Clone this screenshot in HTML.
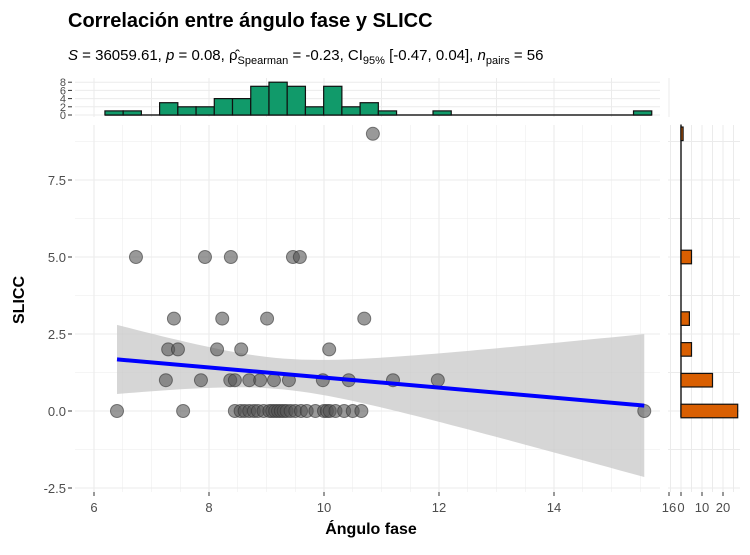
<!DOCTYPE html>
<html><head><meta charset="utf-8">
<style>
body{margin:0;background:#fff;width:750px;height:550px;overflow:hidden;font-family:"Liberation Sans",sans-serif}
</style></head>
<body>
<svg id="chart" width="750" height="550" xmlns="http://www.w3.org/2000/svg" font-family="Liberation Sans, sans-serif">
<text x="68" y="27" font-size="20" font-weight="bold" fill="#000">Correlación entre ángulo fase y SLICC</text>
<text x="68" y="60" font-size="15" fill="#000"><tspan font-style="italic">S</tspan> = 36059.61, <tspan font-style="italic">p</tspan> = 0.08, ρ̂<tspan font-size="11" dy="4">Spearman</tspan><tspan dy="-4"> = -0.23, CI</tspan><tspan font-size="11" dy="4">95%</tspan><tspan dy="-4"> [-0.47, 0.04], </tspan><tspan font-style="italic">n</tspan><tspan font-size="11" dy="4">pairs</tspan><tspan dy="-4"> = 56</tspan></text>
<g id="grid"></g>
<g id="marks"></g>
<text x="371" y="534" font-size="16" font-weight="bold" text-anchor="middle">Ángulo fase</text>
<text transform="translate(24,300) rotate(-90)" font-size="16" font-weight="bold" text-anchor="middle">SLICC</text>
</svg>
<script>
// scatter data
const xValues=[10.85,6.73,7.93,8.38,9.46,9.58,7.39,8.23,9.01,10.70,7.29,7.46,8.14,8.56,10.09,7.25,7.86,8.37,8.45,8.70,8.89,9.13,9.39,9.98,10.43,11.2,11.98,6.40,7.55,15.57,8.45,8.55,8.62,8.7,8.78,8.85,8.95,9.05,9.1,9.15,9.2,9.25,9.3,9.35,9.42,9.5,9.6,9.7,9.85,10.0,10.05,10.1,10.2,10.35,10.5,10.65];
const yValues=[9,5,5,5,5,5,3,3,3,3,2,2,2,2,2,1,1,1,1,1,1,1,1,1,1,1,1,0,0,0,0,0,0,0,0,0,0,0,0,0,0,0,0,0,0,0,0,0,0,0,0,0,0,0,0,0];
// top histogram
const topBinStart=6.19, topBinWidth=0.317;
const topCounts=[1,1,0,3,2,2,4,4,7,8,7,2,7,2,3,1,0,0,1,0,0,0,0,0,0,0,0,0,0,1];
const topTicks=[0,2,4,6,8];
// right histogram
const sideCats=[0,1,2,3,5,9];
const sideCounts=[27,15,5,4,5,1];
const sideTicks=[0,10,20];
const xTicks=[6,8,10,12,14,16];
const yTicks=[-2.5,0,2.5,5,7.5];

const NS="http://www.w3.org/2000/svg";
const grid=document.getElementById('grid'),marks=document.getElementById('marks');
function el(t,a,p){const e=document.createElementNS(NS,t);for(const k in a)e.setAttribute(k,a[k]);(p||marks).appendChild(e);return e;}
const PL=75,PR=660,PT=125,PB=492;
const sx=v=>94+(v-6)*57.5;
const sy=v=>411-v*30.8;
for(let v=5.5;v<=16.5;v+=0.5){if(sx(v)<PL||sx(v)>PR)continue;const g=el('line',{x1:sx(v),x2:sx(v),y1:PT,y2:PB,stroke:'#ebebeb','stroke-width':Number.isInteger(v/2)?1.1:0.5},grid);}
for(let v=-2.5;v<=8.75;v+=1.25){const g=el('line',{x1:PL,x2:PR,y1:sy(v),y2:sy(v),stroke:'#ebebeb','stroke-width':Math.abs(v/2.5-Math.round(v/2.5))<1e-6?1.1:0.5},grid);}
xTicks.forEach(v=>{const t=el('text',{x:sx(v),y:512,'font-size':13,fill:'#4d4d4d','text-anchor':'middle'});t.textContent=v;el('line',{x1:sx(v),x2:sx(v),y1:492,y2:496,stroke:'#333'});});
yTicks.forEach(v=>{const t=el('text',{x:66,y:sy(v)+5,'font-size':13,fill:'#4d4d4d','text-anchor':'end'});t.textContent=v.toFixed(1);el('line',{x1:68,x2:72,y1:sy(v),y2:sy(v),stroke:'#333'});});
const n=xValues.length;let mx=0,my=0;for(let i=0;i<n;i++){mx+=xValues[i];my+=yValues[i];}mx/=n;my/=n;
let sxx=0,sxy=0;for(let i=0;i<n;i++){sxx+=(xValues[i]-mx)**2;sxy+=(xValues[i]-mx)*(yValues[i]-my);}
const b=sxy/sxx,a=my-b*mx;let sse=0;for(let i=0;i<n;i++)sse+=(yValues[i]-a-b*xValues[i])**2;
const s=Math.sqrt(sse/(n-2)),tq=2.005;
const x0=Math.min(...xValues),x1=Math.max(...xValues);
let up=[],lo=[];for(let k=0;k<=60;k++){const x=x0+(x1-x0)*k/60,yh=a+b*x,se=s*Math.sqrt(1/n+(x-mx)**2/sxx);up.push(sx(x)+','+sy(yh+tq*se));lo.unshift(sx(x)+','+sy(yh-tq*se));}
const band=el('polygon',{points:up.concat(lo).join(' '),fill:'#c8c8c8','fill-opacity':0.75});

for(let i=0;i<n;i++){const c=el('circle',{cx:sx(xValues[i]),cy:sy(yValues[i]),r:6.5,fill:'#555','fill-opacity':0.6,stroke:'#333','stroke-opacity':0.6,'stroke-width':1});}
const rl=el('line',{x1:sx(x0),y1:sy(a+b*x0),x2:sx(x1),y2:sy(a+b*x1),stroke:'#0000ff','stroke-width':4});

const tb=115,th=4.1;
topTicks.forEach(v=>{const g=el('line',{x1:PL,x2:PR,y1:tb-v*th,y2:tb-v*th,stroke:'#ebebeb'},grid);
 const t=el('text',{x:66,y:tb-v*th+4,'font-size':11,fill:'#4d4d4d','text-anchor':'end'});t.textContent=v;el('line',{x1:68,x2:72,y1:tb-v*th,y2:tb-v*th,stroke:'#333'});});
for(let v=6;v<=16;v+=1){el('line',{x1:sx(v),x2:sx(v),y1:78,y2:117,stroke:'#ebebeb'},grid);}
el('line',{x1:sx(topBinStart),x2:sx(topBinStart+topCounts.length*topBinWidth),y1:tb,y2:tb,stroke:'#222','stroke-width':1.5});
topCounts.forEach((c,i)=>{if(!c)return;const x=sx(topBinStart+i*topBinWidth),w=sx(topBinStart+(i+1)*topBinWidth)-x;const r=el('rect',{x:x,y:tb-c*th,width:w,height:c*th,fill:'#119a6a',stroke:'#111','stroke-width':1.2});});
const rb=681,rw=2.1;
for(let v=-2.5;v<=8.75;v+=1.25){el('line',{x1:668,x2:740,y1:sy(v),y2:sy(v),stroke:'#ebebeb'},grid);}
[-5,0,5,10,15,20,25].forEach(v=>{el('line',{x1:rb+v*rw,x2:rb+v*rw,y1:PT,y2:PB,stroke:'#ebebeb'},grid);});
el('line',{x1:rb,x2:rb,y1:sy(9.3),y2:sy(-0.2),stroke:'#222','stroke-width':1.5});
sideCats.forEach((c,i)=>{const r=el('rect',{x:rb,y:sy(c+0.22),width:sideCounts[i]*rw,height:sy(c-0.22)-sy(c+0.22),fill:'#d95f02',stroke:'#111','stroke-width':1.2});});
sideTicks.forEach(v=>{const t=el('text',{x:rb+v*rw,y:512,'font-size':13,fill:'#4d4d4d','text-anchor':'middle'});t.textContent=v;el('line',{x1:rb+v*rw,x2:rb+v*rw,y1:492,y2:496,stroke:'#333'});});
</script>
</body></html>
